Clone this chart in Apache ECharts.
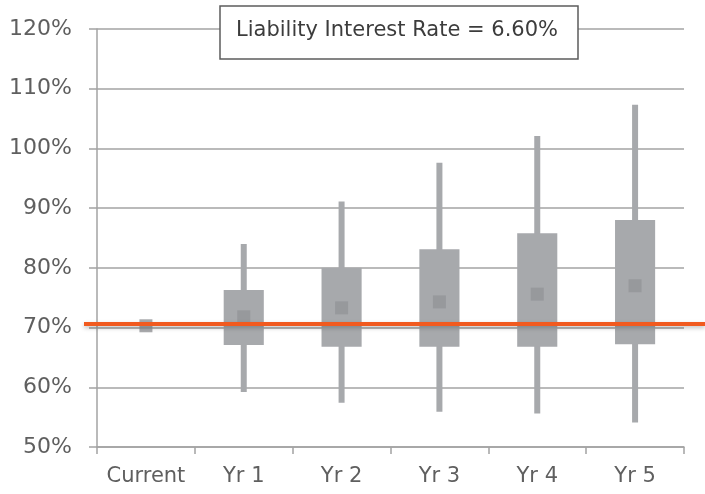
<!DOCTYPE html>
<html>
<head>
<meta charset="utf-8">
<script src="https://cdn.jsdelivr.net/npm/echarts@6/dist/echarts.min.js"></script>
<style>
  html, body { margin: 0; padding: 0; background: #fff; }
  #chart { width: 705px; height: 494px; }
</style>
</head>
<body>
<div id="chart"></div>
<script>
// Funded-ratio projection: range bars by horizon with the liability-rate reference line
const categories = ['Current', 'Yr 1', 'Yr 2', 'Yr 3', 'Yr 4', 'Yr 5'];
const whiskerLow  = [null, 59.2, 57.4, 55.9, 55.6, 54.1];
const boxLow      = [null, 67.1, 66.8, 66.8, 66.8, 67.2];
const boxHigh     = [null, 76.3, 80.0, 83.1, 85.8, 88.0];
const whiskerHigh = [null, 84.0, 91.1, 97.6, 102.1, 107.3];
const midValues   = [70.3, 71.8, 73.3, 74.3, 75.6, 77.0];
const referenceLevel = 70.6;
const yMin = 50, yMax = 120, yStep = 10;
const headline = 'Liability Interest Rate = 6.60%';

const FONT = 'DejaVu Sans';
const BOX_COLOR = '#a7a9ac';
const MID_COLOR = '#939598';
const GRID_COLOR = '#a3a3a3';

const rangeData = [];
categories.forEach((c, i) => {
  if (whiskerLow[i] != null) {
    rangeData.push([i, whiskerLow[i], boxLow[i], boxHigh[i], whiskerHigh[i]]);
  }
});

const chart = echarts.init(document.getElementById('chart'), null, { renderer: 'canvas' });

chart.setOption({
  animation: false,
  backgroundColor: '#ffffff',
  grid: { left: 97, right: 21, top: 29, bottom: 47, containLabel: false },
  xAxis: {
    type: 'category',
    data: categories,
    boundaryGap: true,
    axisLine: { show: true, lineStyle: { color: GRID_COLOR, width: 1.5 } },
    axisTick: { show: true, length: 7, interval: 0, lineStyle: { color: GRID_COLOR, width: 1.5 } },
    axisLabel: { interval: 0, hideOverlap: false, margin: 19, fontFamily: FONT, fontSize: 21, color: '#5f5f5f' },
    splitLine: { show: false }
  },
  yAxis: {
    type: 'value',
    min: yMin, max: yMax, interval: yStep,
    axisLine: { show: true, lineStyle: { color: GRID_COLOR, width: 1.5 } },
    axisTick: { show: true, length: 8, lineStyle: { color: GRID_COLOR, width: 1.5 } },
    axisLabel: { margin: 25, fontFamily: FONT, fontSize: 22, color: '#5f5f5f', formatter: '{value}%' },
    splitLine: { show: true, lineStyle: { color: GRID_COLOR, width: 1.5 } }
  },
  series: [
    {
      type: 'custom',
      data: rangeData,
      encode: { x: 0, y: [1, 2, 3, 4] },
      z: 3,
      renderItem: function (params, api) {
        const idx = api.value(0);
        const pLow = api.coord([idx, api.value(1)]);
        const pQ1 = api.coord([idx, api.value(2)]);
        const pQ3 = api.coord([idx, api.value(3)]);
        const pHigh = api.coord([idx, api.value(4)]);
        const band = api.size([1, 0])[0];
        const w = band * 0.41;
        return {
          type: 'group',
          children: [
            {
              type: 'line',
              shape: { x1: pHigh[0], y1: pHigh[1], x2: pLow[0], y2: pLow[1] },
              style: { stroke: BOX_COLOR, lineWidth: 6, lineCap: 'butt' }
            },
            {
              type: 'rect',
              shape: { x: pQ3[0] - w / 2, y: pQ3[1], width: w, height: pQ1[1] - pQ3[1] },
              style: { fill: BOX_COLOR }
            }
          ]
        };
      }
    },
    {
      type: 'scatter',
      data: midValues.map((v, i) => [i, v]),
      symbol: 'rect',
      symbolSize: 13,
      itemStyle: { color: MID_COLOR },
      z: 4
    }
  ]
});

// Reference line across the plot (and slightly past it) at the liability level
const yPix = chart.convertToPixel({ yAxisIndex: 0 }, referenceLevel);
chart.setOption({
  graphic: [
    {
      type: 'line',
      z: 50,
      shape: { x1: 84, y1: yPix, x2: 705, y2: yPix },
      style: {
        stroke: '#f15a1f', lineWidth: 4,
        shadowColor: 'rgba(0,0,0,0.25)', shadowBlur: 4, shadowOffsetY: 2
      }
    },
    {
      type: 'group',
      z: 60,
      children: [
        {
          type: 'rect',
          shape: { x: 220, y: 6, width: 358, height: 53 },
          style: { fill: '#ffffff', stroke: '#5c5c5c', lineWidth: 1.5 }
        },
        {
          type: 'text',
          x: 397, y: 31,
          style: {
            text: headline, fontFamily: FONT, fontSize: 21, fill: '#3c3c3c',
            align: 'center', verticalAlign: 'middle'
          }
        }
      ]
    }
  ]
});
</script>
</body>
</html>
